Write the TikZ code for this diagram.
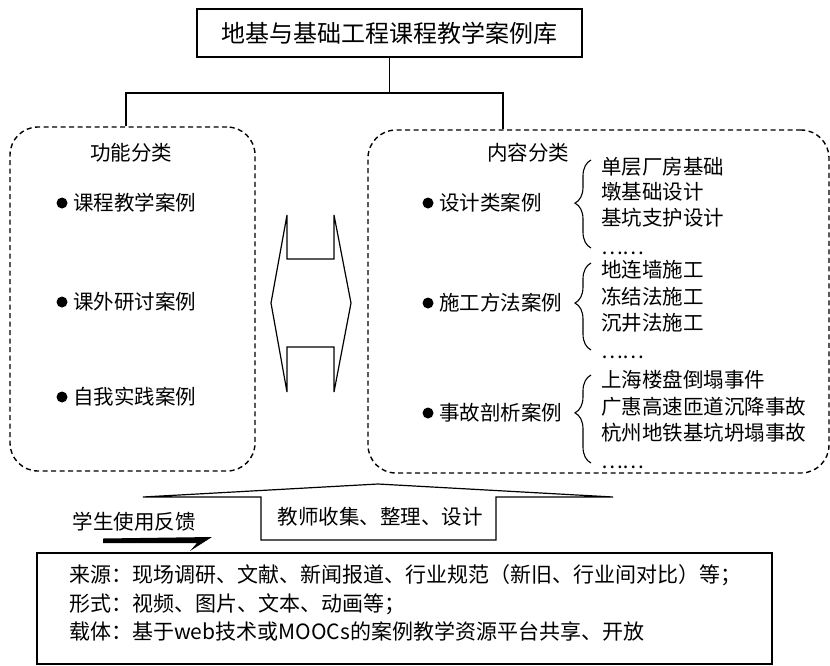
\documentclass[tikz,border=0pt]{standalone}
\usepackage{fontspec}
\setmainfont{Noto Sans CJK SC}
\usetikzlibrary{decorations.pathreplacing}
\begin{document}
\begin{tikzpicture}[x=1pt,y=-1pt,
  every node/.style={inner sep=0pt},
  txt/.style={font=\fontsize{20.5pt}{24pt}\selectfont, text height=18pt, text depth=2.5pt},
  btxt/.style={font=\fontsize{21pt}{24pt}\selectfont, text height=18.5pt, text depth=2.5pt},
  dbox/.style={draw, dash pattern=on 5pt off 3.5pt, line width=1.4pt, rounded corners=28pt},
  solid line/.style={line width=1.2pt},
  bracebar/.style={decorate, line width=1.1pt, decoration={brace, amplitude=16pt, aspect=#1}}]
\useasboundingbox (0,0) rectangle (830,665);

% title and connectors
\node[draw, solid line, minimum width=385pt, minimum height=48pt,
      font=\fontsize{24pt}{28pt}\selectfont] (title) at (389.5,33) {地基与基础工程课程教学案例库};
\node[dbox, minimum width=245pt, minimum height=344pt] (fun) at (132.5,299) {};
\node[dbox, minimum width=461pt, minimum height=343pt] (cont) at (598.5,301.5) {};
\coordinate (j) at (390,93);
\draw[solid line] (title.south) -- (title.south |- j) -| ([xshift=-6.5pt]fun.north);
\draw[solid line] (title.south |- j) -| ([xshift=-95.5pt]cont.north);

% left box
\node[txt] (funt) at (131,153) {功能分类};
\fill (62,203) circle (5.5pt);
\node[txt, anchor=west] (f1) at (73,203) {课程教学案例};
\fill (62,302) circle (5.5pt);
\node[txt, anchor=west] (f2) at (73,302) {课外研讨案例};
\fill (62,397) circle (5.5pt);
\node[txt, anchor=west] (f3) at (73,397) {自我实践案例};

% double arrow
\draw[solid line, line join=miter] (287,215) -- (287,259) -- (334,259) -- (334,215) -- (351,303)
  -- (334,392) -- (334,347) -- (287,347) -- (287,392) -- (271,303) -- cycle;

% right box
\node[txt] (ct) at (528,153) {内容分类};
\fill (428,203) circle (5.5pt);
\node[txt, anchor=west] (c1) at (439,203) {设计类案例};
\fill (428,303) circle (5.5pt);
\node[txt, anchor=west] (c2) at (439,303) {施工方法案例};
\fill (428,413) circle (5.5pt);
\node[txt, anchor=west] (c3) at (439,413) {事故剖析案例};

\draw[bracebar=0.51] (591,248) -- (591,160);
\draw[bracebar=0.54] (591,350) -- (591,263);
\draw[bracebar=0.57] (591,463) -- (591,375);

\node[txt, anchor=west] (a1) at (601,167) {单层厂房基础};
\node[txt, anchor=west] (a2) at (601,192) {墩基础设计};
\node[txt, anchor=west] (a3) at (601,218) {基坑支护设计};
\node[txt, anchor=west] (a4) at (601,247) {……};
\node[txt, anchor=west] (b1) at (601,270) {地连墙施工};
\node[txt, anchor=west] (b2) at (601,297) {冻结法施工};
\node[txt, anchor=west] (b3) at (601,323) {沉井法施工};
\node[txt, anchor=west] (b4) at (601,351) {……};
\node[txt, anchor=west] (d1) at (601,380) {上海楼盘倒塌事件};
\node[txt, anchor=west] (d2) at (601,407) {广惠高速匝道沉降事故};
\node[txt, anchor=west] (d3) at (601,433) {杭州地铁基坑坍塌事故};
\node[txt, anchor=west] (d4) at (601,461) {……};

% upward arrow (teacher)
\draw[solid line, line join=miter] (143,497) -- (378,484) -- (613,497) -- (496,497) -- (496,540)
  -- (261,540) -- (261,497) -- cycle;
\node[txt] (teach) at (380,517) {教师收集、整理、设计};

% student feedback
\node[txt] (fb) at (134,522) {学生使用反馈};
\fill (103,538.5) -- (212,537) -- (190,551) -- (197,543) -- (103,543) -- cycle;

% bottom box
\node[draw, line width=1.6pt, minimum width=735pt, minimum height=111pt] (src) at (404.5,608.5) {};
\node[btxt, anchor=west] (s1) at (69,574) {来源：现场调研、文献、新闻报道、行业规范（新旧、行业间对比）等；};
\node[btxt, anchor=west] (s2) at (69,603) {形式：视频、图片、文本、动画等；};
\node[btxt, anchor=west] (s3) at (69,631) {载体：基于web技术或MOOCs的案例教学资源平台共享、开放};
\end{tikzpicture}
\end{document}
